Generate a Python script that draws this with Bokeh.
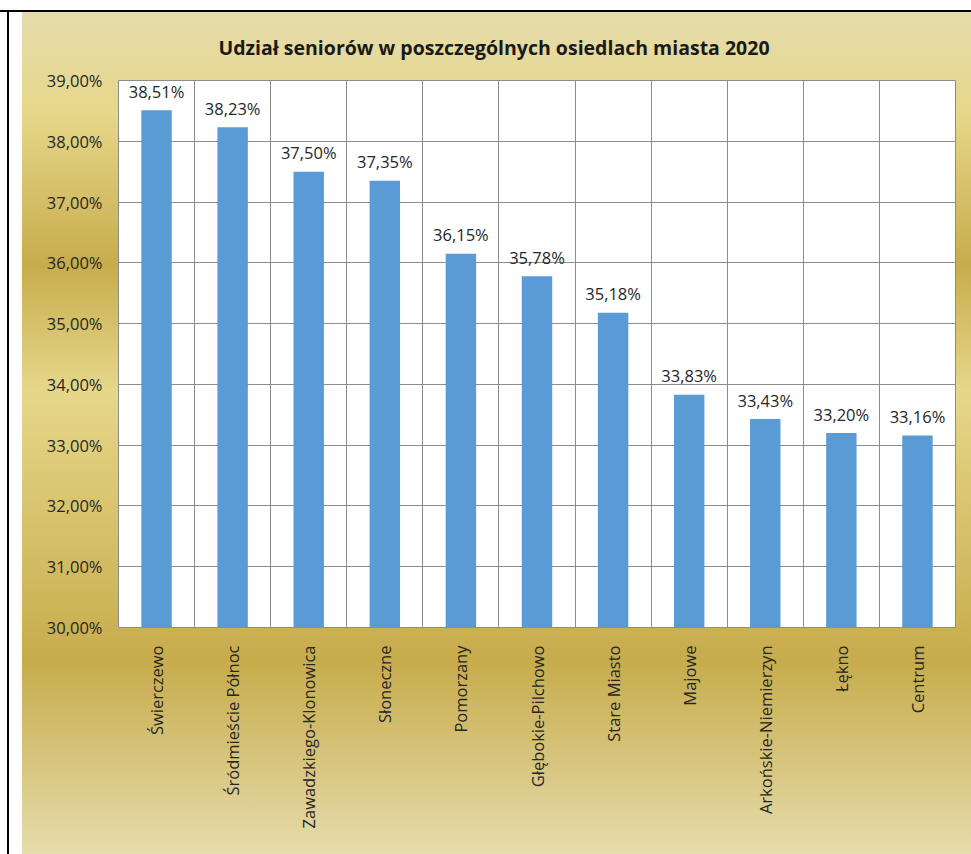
import math
from bokeh.plotting import figure
from bokeh.models import Range1d, FixedTicker
from bokeh.embed import file_html
from bokeh.resources import INLINE
from bokeh.core.properties import value

title_text = "Udział seniorów w poszczególnych osiedlach miasta 2020"
categories = ["Świerczewo", "Śródmieście Północ", "Zawadzkiego-Klonowica", "Słoneczne",
              "Pomorzany", "Głębokie-Pilchowo", "Stare Miasto", "Majowe",
              "Arkońskie-Niemierzyn", "Łękno", "Centrum"]
shares = [38.51, 38.23, 37.50, 37.35, 36.15, 35.78, 35.18, 33.83, 33.43, 33.20, 33.16]
y_ticks = [30, 31, 32, 33, 34, 35, 36, 37, 38, 39]
y_tick_labels = ["30,00%", "31,00%", "32,00%", "33,00%", "34,00%", "35,00%",
                 "36,00%", "37,00%", "38,00%", "39,00%"]

value_labels = [f"{v:.2f}".replace(".", ",") + "%" for v in shares]
x_pos = [i + 0.5 for i in range(len(categories))]
boundaries = list(range(len(categories) + 1))

FONT = "Open Sans"
TXT = "#262626"
GRID = "#8c8c8c"

p = figure(width=971, height=854, output_backend="svg", toolbar_location=None,
           x_range=Range1d(0, len(categories)), y_range=Range1d(y_ticks[0], y_ticks[-1]),
           min_border_left=118, min_border_right=16, min_border_top=80, min_border_bottom=227,
           border_fill_color=None, background_fill_color="white",
           outline_line_color=GRID, outline_line_width=1, title=title_text)

p.styles = {
    "background": (
        "linear-gradient(#000,#000) 0px 10px / 100% 2px no-repeat, "
        "linear-gradient(#000,#000) 7px 10px / 2px 100% no-repeat, "
        "linear-gradient(180deg, #E6DCAC 0%, #E6D78A 12%, #C7AC4C 30%, #E6D78A 45%, "
        "#C7AC4C 77%, #E6DCAC 100%) 22px 12px / calc(100% - 22px) calc(100% - 12px) no-repeat, "
        "#ffffff"
    )
}

p.title.align = "left"
p.title.offset = 100
p.title.standoff = 39
p.title.text_font = FONT
p.title.text_font_size = "19.5px"
p.title.text_font_style = "bold"
p.title.text_color = "#1a1a1a"

p.vbar(x=x_pos, top=shares, bottom=y_ticks[0], width=0.4,
       fill_color="#5B9BD5", line_color=None)

p.text(x=x_pos, y=shares, text=value_labels, text_align="center",
       text_baseline="alphabetic", y_offset=-19, text_font=value(FONT),
       text_font_size="16.5px", text_color=TXT)

# axes
p.xaxis.ticker = FixedTicker(ticks=x_pos)
p.xaxis.major_label_overrides = {x: c for x, c in zip(x_pos, categories)}
p.xaxis.major_label_orientation = math.pi / 2
p.yaxis.ticker = FixedTicker(ticks=y_ticks)
p.yaxis.major_label_overrides = {t: l for t, l in zip(y_ticks, y_tick_labels)}
for ax in (p.xaxis[0], p.yaxis[0]):
    ax.axis_line_color = None
    ax.major_tick_line_color = None
    ax.minor_tick_line_color = None
    ax.major_tick_in = 0
    ax.major_tick_out = 0
    ax.major_label_text_font = FONT
    ax.major_label_text_font_size = "16.5px"
    ax.major_label_text_color = TXT
p.xaxis.major_label_standoff = 18
p.yaxis.major_label_standoff = 16

p.xgrid.ticker = FixedTicker(ticks=boundaries)
p.ygrid.ticker = FixedTicker(ticks=y_ticks)
for g in (p.xgrid[0], p.ygrid[0]):
    g.grid_line_color = GRID
    g.grid_line_width = 1

open("out.html", "w").write(file_html(p, INLINE))
